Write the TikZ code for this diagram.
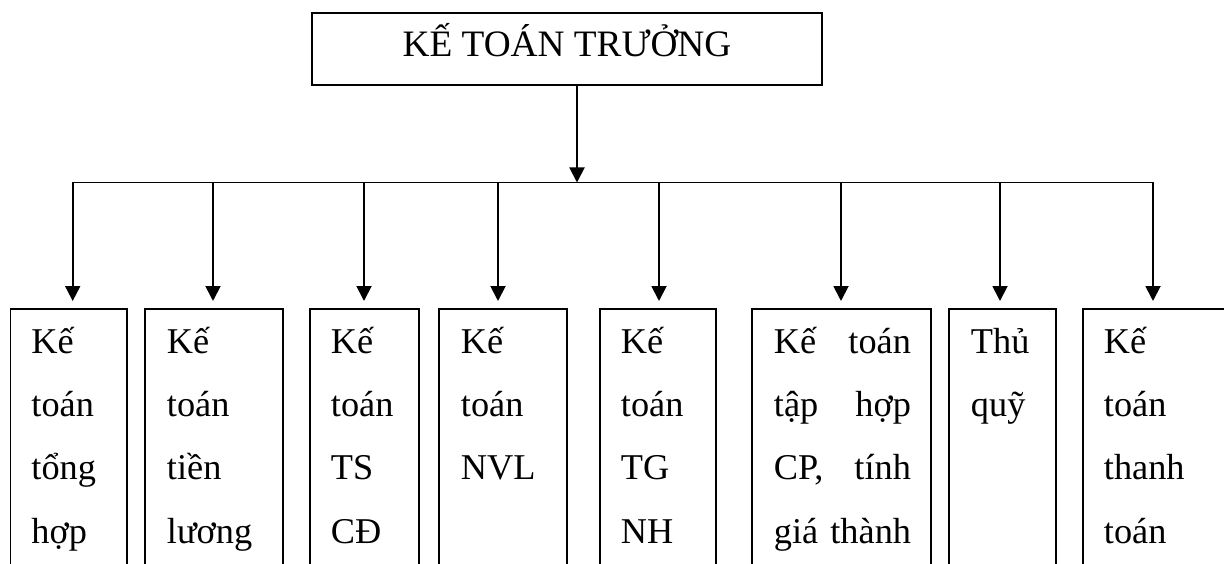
\documentclass[tikz,border=0pt]{standalone}
\usepackage{fontspec}
\setmainfont{Liberation Serif}
\usetikzlibrary{arrows.meta}
\begin{document}
\begin{tikzpicture}[x=1pt,y=-1pt,
  line width=1.9pt,
  unitbox/.style={draw, inner sep=0pt, anchor=north west, minimum height=300pt},
  celltext/.style={font=\fontsize{36.3}{63.3}\selectfont, anchor=north west, inner sep=0pt, align=left, text width=#1},
  celltext/.default=100pt,
  link/.style={-{Triangle[length=15pt,width=15pt]}, shorten >=7pt},
  mainlink/.style={-{Triangle[length=15pt,width=15pt]}}
]
\useasboundingbox (0,0) rectangle (1224,564);
\clip (0,0) rectangle (1224,564);

% head of the department
\node[draw, minimum width=510pt, minimum height=72pt, inner sep=0pt,
      font=\fontsize{37.3}{42}\selectfont, text height=24pt, text depth=8.6pt]
      (head) at (567,49) {KẾ TOÁN TRƯỞNG};

% subordinate units
\node[unitbox, minimum width=116.5pt] (b1) at (9.5,308) {};
\node[unitbox, minimum width=138pt]   (b2) at (144,308) {};
\node[unitbox, minimum width=109pt]   (b3) at (309,308) {};
\node[unitbox, minimum width=128pt]   (b4) at (438,308) {};
\node[unitbox, minimum width=116pt]   (b5) at (599,308) {};
\node[unitbox, minimum width=179pt]   (b6) at (751,308) {};
\node[unitbox, minimum width=107pt]   (b7) at (948,308) {};
\node[unitbox, minimum width=150pt]   (b8) at (1082,308) {};

\node[celltext] (t1) at ([xshift=21pt]b1.north west) {\strut Kế\\toán\\tổng\\hợp};
\node[celltext] (t2) at ([xshift=22pt]b2.north west) {\strut Kế\\toán\\tiền\\lương};
\node[celltext] (t3) at ([xshift=21pt]b3.north west) {\strut Kế\\toán\\TS\\CĐ};
\node[celltext] (t4) at ([xshift=22pt]b4.north west) {\strut Kế\\toán\\NVL};
\node[celltext] (t5) at ([xshift=21pt]b5.north west) {\strut Kế\\toán\\TG\\NH};
\node[celltext=137pt] (t6) at ([xshift=22pt]b6.north west)
  {\strut Kế\hfill toán\\tập\hfill hợp\\CP,\hfill tính\\\mbox{giá thành}};
\node[celltext] (t7) at ([xshift=22pt]b7.north west) {\strut Thủ\\quỹ};
\node[celltext] (t8) at ([xshift=21pt]b8.north west) {\strut Kế\\toán\\thanh\\toán};

% distribution bus
\coordinate (hub) at (577,182.5);
\coordinate (c1) at (72.7,182.5);
\coordinate (c2) at (213,182.5);
\coordinate (c3) at (364,182.5);
\coordinate (c4) at (498,182.5);
\coordinate (c5) at (659,182.5);
\coordinate (c6) at (841,182.5);
\coordinate (c7) at (1000,182.5);
\coordinate (c8) at (1153,182.5);

\draw[mainlink] (hub |- head.south) -- (hub);
\draw[line cap=rect] (c1) -- (c8);
\foreach \i in {1,...,8}
  \draw[link] (c\i) -- (c\i |- b\i.north);
\end{tikzpicture}
\end{document}
